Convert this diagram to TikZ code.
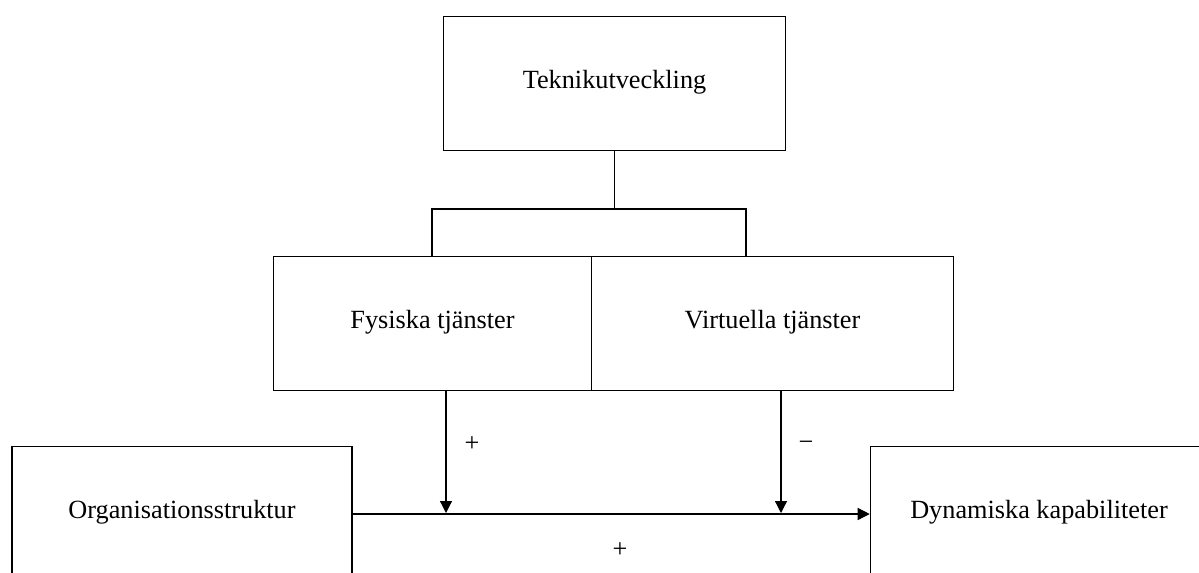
\documentclass[tikz,border=0pt]{standalone}
\usepackage{fontspec}
\setmainfont{Liberation Serif}
\usetikzlibrary{arrows.meta,positioning,calc}
\tikzset{
  box/.style={draw=black,fill=white,line width=.9pt,align=center,inner sep=0pt,text height=.8em,text depth=.12em},
  link/.style={draw=black,line width=.8pt},
  flow/.style={-{Triangle[length=9pt,width=9pt]},draw=black,line width=.9pt},
  sign/.style={inner sep=0pt}
}
\begin{document}
\begin{tikzpicture}[x=.75pt,y=-.75pt,font=\fontsize{19.7pt}{24pt}\selectfont]
        \useasboundingbox (0,0) rectangle (1199,572);
        \clip (0,0) rectangle (1199,572);
        \node[box,minimum width=256pt,minimum height=100pt] (tek) at (614.5,83.5) {Teknikutveckling};
        \node[box,minimum width=238pt,minimum height=100pt] (fys) at (432.5,323.5) {Fysiska tjänster};
        \node[box,minimum width=272pt,minimum height=100pt] (virt) at (772.5,323.5) {Virtuella tjänster};
        \node[box,minimum width=255pt,minimum height=101pt] (org) at (182,514) {Organisationsstruktur};
        \node[box,minimum width=253pt,minimum height=101pt] (dyn) at (1039,514) {Dynamiska kapabiliteter};
        \coordinate (bl) at (432,209);
        \coordinate (br) at (746,209);
        \coordinate (m1) at (446,513);
        \coordinate (m2) at (781,513);
        \draw[link] (tek.south) -- (tek.south |- bl);
        \draw[link] (bl |- fys.north) -- (bl) -- (br) -- (br |- virt.north);
        \draw[flow] (org.east) -- (dyn.west);
        \draw[flow] (m1 |- fys.south) -- (m1);
        \draw[flow] (m2 |- virt.south) -- (m2);
        \node[sign] (plusa) at (472,444) {+};
        \node[sign] (minus) at (806,446) {−};
        \node[sign] (plusb) at (620,550) {+};
      \end{tikzpicture}
\end{document}
